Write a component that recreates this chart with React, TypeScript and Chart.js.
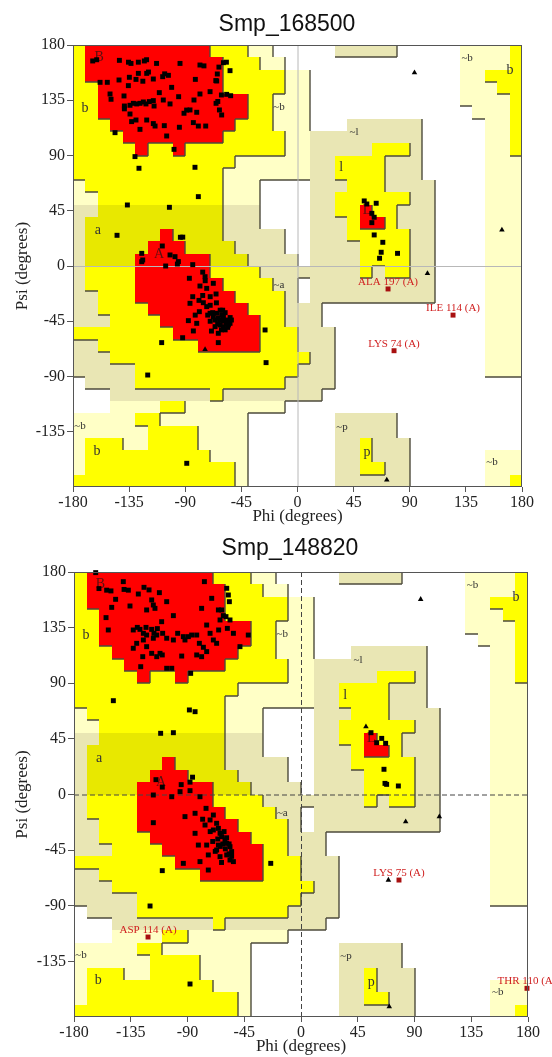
import React, { useEffect, useRef } from 'react';
import { Chart, registerables } from 'chart.js';
Chart.register(...registerables);

// ---------- axis ticks ----------
const PHI_TICKS = [-180, -135, -90, -45, 0, 45, 90, 135, 180];
const PSI_TICK_LABELS = [-135, -90, -45, 0, 45, 90, 135, 180];

// ---------- Ramachandran region map (10 deg cells) ----------
// rows: psi 180 -> -180 ; columns: phi -180 -> 180
// R core, Y/O allowed, p/g generously allowed, . disallowed
const regionRows: string[] = [
  'YRRRRRRRRRRYYYpp.....ggggg.....ppppY',
  'YRRRRRRRRRRRYYYpp..............ppppY',
  'YRRRRRRRRRRRYYYYYpp............ppYYY',
  'YYRRRRRRRRRRYYYYYpp............pppYY',
  'YYRRRRRRRRRRRRYYppp............ppppY',
  'YYRRRRRRRRRRRRYYppp.............pppY',
  'YYYRRRRRRRRRRYYYppp...gggggg.....ppY',
  'YYYYRRRRRRRRYYYYYppggggggggg.....ppY',
  'YYYYYRYYRYYYYYYYYppgggggYYYg.....ppY',
  'YYYYYYYYYYYYYppppppggYYYYggg.....ppp',
  'YYYYYYYYYYYYpppppppggYYYYggg.....ppp',
  'pYYYYYYYYYYYppp....gggYYYgggg....ppp',
  'ppYYYYYYYYYYppp....ggYYYYYYgg....ppp',
  'ggOOOOOOOOOOggg....ggYYRYYggg....ppp',
  'gOOOOOOOOOOOggg....gggYRRYggg....ppp',
  'gOOOOOOROOOOggggg..gggYYYYYgg....ppp',
  'gOOOOORRROOOOgggg..ggggYYYYgg....ppp',
  'gOOOORRRRRROOOgggg.ggggYYYYgg....ppp',
  'gYYYYRRRRRRYYYYggggggggYgYYgg....ppp',
  'gYYYYRRRRRRRYYYYgg.gggggggggg....ppp',
  'ggYYYRRRRRRRRYYYYg.gggggggggg....ppp',
  'ggYYYYRRRRRRRRYYYggg.............ppp',
  'gggYYYYRRRRRRRRYYggg.............ppp',
  'YYYYYYYYRRRRRRRYYYggg............ppp',
  'ggYYYYYYYYRRRRRYYYggg............ppp',
  'gggYYYYYYYYYYYYYYYYgg............ppp',
  'gggggYYYYYYYYYYYYYggg............ppp',
  '.ggggYYYYYYYYYYYYgggg...............',
  '...ggggggggYgggggggg................',
  '...ppppYYpppppppp...................',
  'pppppYYppppppp.......ggggg..........',
  'ppppppYYYYpppp.......ggggg..........',
  'pYYYppYYYYpppp.......ggYggg.........',
  'pYYYYYYYYYYppp.......ggYggg......ppp',
  'pYYYYYYYYYYYYp.......ggYYgg......ppp',
  'YYYYYYYYYYYYYp.......gggggg......ppY',
];
const regionColor: Record<string, string | null> = {
  R: '#ff0000', Y: '#ffff00', O: '#e8e800', p: '#ffffc6', g: '#e9e6b4', '.': null,
};
const regionLevel: Record<string, number> = { R: 3, Y: 2, O: 2, p: 1, g: 1, '.': 0 };

// region letters
const regionLabelText = ['B', 'b', '~b', 'a', 'A', '~a', '~b', 'b', '~l', 'l', 'L', '~b', 'b', '~p', 'p', '~b'];
const regionLabelPhi = [-159, -170.4, -14.8, -160, -111, -14.8, -174.4, -160.7, 45.3, 35, 55.8, 136, 170.4, 35.7, 55.8, 156];
const regionLabelPsi = [170, 128.7, 129.5, 29, 9.8, -15.4, -130.3, -150.6, 109, 80, 45.6, 169, 159.6, -131, -152, -159.6];

// ---------- panel 1: Smp_168500 ----------
const top_title = 'Smp_168500';
const top_residues: [number, number][] = [
  [-164.2, 167], [-161, 168], [-142.8, 167.5], [-135.5, 166], [-133.5, 165], [-127.6, 166], [-122.8, 167], [-121, 168],
  [-113, 165], [-94.2, 165], [-78.2, 163.7], [-75, 163], [-59.4, 165.6], [-57, 166], [-54.1, 159.1], [-63, 162],
  [-64.3, 156.4], [-65.5, 151], [-158.3, 149.6], [-152.5, 149.6], [-143.1, 151.5], [-134.8, 153.7], [-135.6, 146.9],
  [-129.5, 152], [-127.6, 156.9], [-124, 150.5], [-120.9, 156.9], [-119.5, 158], [-115.6, 152.3], [-108.1, 154.2],
  [-106.5, 156.5], [-103.5, 155.3], [-81.9, 152], [-64.8, 150.7], [-150.3, 140.1], [-149.5, 135.8], [-139.1, 138.5],
  [-138.8, 130.3], [-134.3, 130.9], [-131.6, 132.5], [-128.9, 132], [-126.3, 132.5], [-123.6, 133.6], [-121.5, 132],
  [-118.8, 133.9], [-115.6, 134.7], [-115, 130.3], [-110.8, 141.2], [-107.6, 135.2], [-102.2, 132], [-100.9, 145.5],
  [-95.3, 137.9], [-91, 124.4], [-88.9, 127], [-86.2, 127.1], [-83, 135.2], [-80.8, 125.2], [-78.2, 140.1], [-70.1, 142],
  [-65.3, 132.5], [-63.9, 134], [-61, 139.3], [-56.8, 139.8], [-53.6, 138.7], [-62.6, 127.1], [-60.8, 123],
  [-138.8, 128], [-134.3, 123.8], [-133, 117.6], [-126.3, 111.3], [-129.5, 118.9], [-120.9, 118.9], [-115.6, 116],
  [-114.2, 114], [-106.8, 114.3], [-104.9, 105.9], [-94.7, 113], [-83.5, 116.8], [-79.5, 114], [-73.6, 114],
  [-146.3, 108.6], [-130.3, 89.1], [-99, 95], [-127.1, 79.6], [-82.2, 80.4], [-79.5, 56.5], [-136.4, 49.7],
  [-102.7, 47.8], [-144.7, 25], [-93.9, 23.4], [-92, 23.5],
  [-124.9, 10.3], [-124.1, 4.9], [-108.4, 16.3], [-102.2, 9], [-98.2, 7.6], [-95.5, 3.6], [-124.9, 3.5], [-105.7, 0],
  [-96.3, 1.6], [-84, 1.1], [-86.7, -10], [-74.1, -8.7], [-78.2, -16.3], [-72.8, -18.2], [-67.5, -14.1], [-65.3, -22.8],
  [-84, -25], [-75.5, -29.9], [-86.2, -30.4], [-78.7, -37.2], [-72.8, -33.1], [-70.1, -38.5], [-67.5, -41.3],
  [-64.8, -38.5], [-63.5, -42.6], [-62.1, -44], [-60.8, -39.9], [-59.4, -41.3], [-56.8, -44], [-55.4, -48],
  [-54.1, -46.7], [-62.1, -48], [-59.4, -49.4], [-66.1, -49.4], [-63.5, -54.8], [-87.5, -44.5], [-83.5, -52.9],
  [-80.8, -46.7], [-63.5, -62.4], [-92.1, -58.4], [-108.9, -62.4], [-26, -52.1], [-25.2, -78.7], [-120.1, -88.8],
  [-88.8, -160.7], [-58, -38], [-60, -45], [-57, -47], [-62, -36], [-66, -44], [-54, -42], [-68, -38], [-64, -47],
  [-56, -50], [-61, -52], [-70, -45], [-72, -40], [-76, -24], [-79, -28], [-70, -25], [-74, -12], [-82, -40],
  [-69, -53], [-65, -30], [-76, -5], [-70, -32], [-58, -52], [-53, -44], [-60, -36],
  [53.5, 53], [55.6, 50.5], [63.1, 51.1], [59.6, 42.9], [61.5, 39.7], [59.6, 35.3], [61.5, 25.3], [68.4, 19.3],
  [67.1, 11.2], [80.2, 10.3], [65.8, 6.3],
];
const top_glycines: [number, number][] = [[93.8, 157.5], [163.9, 29.4], [104.2, -6], [71.6, -174.3], [-74.1, -67.9]];
const top_outlier_names = ['ALA 197 (A)', 'ILE 114 (A)', 'LYS 74 (A)'];
const top_outlier_phi = [72.6, 124.7, 77.4];
const top_outlier_psi = [-18.7, -40, -69];

// ---------- panel 2: Smp_148820 ----------
const bottom_title = 'Smp_148820';
const bottom_residues: [number, number][] = [
  [-162.8, 179.5], [-160.2, 166.6], [-154.1, 165.3], [-150.7, 164.7], [-147, 157.9], [-140.9, 172.2], [-140.3, 165.9],
  [-136.9, 165.3], [-135.6, 152.5], [-129, 162.2], [-124.5, 167.6], [-120.5, 165.5], [-118.4, 157.4], [-117.1, 153.3],
  [-115.8, 150.6], [-122.4, 149.3], [-112.3, 163.3], [-106.5, 156], [-101.2, 144.7], [-110.5, 139.8], [-114.4, 129],
  [-116.6, 130.4], [-154.6, 143.1], [-152.8, 133.1], [-150.1, 151.4], [-133, 133.1], [-129.8, 135.2], [-127.7, 133.6],
  [-125, 130.4], [-122.9, 135.2], [-122.4, 129], [-118.4, 133.6], [-117.1, 126.4], [-113.9, 134.2], [-109.7, 130.4],
  [-106.5, 126.4], [-101.2, 125], [-97.8, 130.4], [-93.3, 127.7], [-92, 125], [-89.3, 127.7], [-86.7, 129],
  [-82.7, 129], [-80.6, 122.3], [-77.4, 119.1], [-74.8, 137.1], [-74.8, 115.6], [-72.1, 130.4], [-69.5, 125],
  [-66.9, 122.3], [-65.3, 133.1], [-64.2, 141.2], [-61.6, 144.7], [-62.9, 149.3], [-59.5, 143.9], [-56.3, 141.2],
  [-58.4, 134.4], [-53.6, 130.4], [-48.4, 119.6], [-41.8, 129], [-76.6, 172.2], [-78.8, 150.6], [-70.8, 158.7],
  [-58.9, 166.8], [-57.6, 161.4], [-56.8, 156], [-65.5, 149.3], [-133, 118.3], [-130.3, 122.3], [-125.5, 111.5],
  [-127.1, 103.4], [-122.4, 119.6], [-118.4, 114.2], [-114.4, 111.5], [-111.8, 114.2], [-110, 112.9], [-106.5, 102.1],
  [-102.5, 102.1], [-94.6, 112], [-87.5, 98], [-82.7, 112.9], [-78.8, 111.5], [-125, 125], [-148.8, 75.9],
  [-88.5, 68.4], [-84, 67], [-111.3, 49.5], [-101.2, 50],
  [-117.1, -0.4], [-102.5, -1.8], [-95.9, 2.3], [-88, 3.1], [-80.1, -1.8], [-92, -17.9], [-84, -15.2], [-75.3, -11.2],
  [-69.5, -16.6], [-72.1, -20.6], [-66.9, -23.3], [-65.5, -27.4], [-76.1, -24.7], [-69.5, -28.7], [-64.2, -31.4],
  [-62.9, -34.1], [-60.3, -36.8], [-58.9, -39.5], [-56.3, -42.2], [-55, -46.2], [-56.3, -53], [-53.6, -54.3],
  [-66.9, -44.9], [-64.2, -50.3], [-74.8, -40.9], [-84, -31.4], [-81.4, -40.9], [-80.1, -54.3], [-73.5, -48.9],
  [-58.9, -48.9], [-65.5, -40.9], [-117.1, -22.8], [-93.3, -55.7], [-110, -61.6], [-73.5, -61.1], [-24, -55.7],
  [-119.7, -90.2], [-88, -153.3], [-60, -44], [-62, -40], [-57, -48], [-64, -42], [-66, -36], [-59, -35], [-68, -46],
  [-55, -50], [-63, -55], [-70, -38], [-72, -30], [-78, -20], [-61, -30], [-57, -40], [-110, 6], [-115, 12],
  [-95, 8], [-88, 10], [-86, 14],
  [55.5, 50], [60, 41.9], [64, 45.4], [67.1, 41.4], [65.8, 20.4], [66.6, 9], [67.9, 8.2], [77.2, 6.9],
];
const bottom_glycines: [number, number][] = [[51.5, 54.9], [94.9, 157.9], [83, -22], [109.7, -17.9], [69.3, -69.2], [70, -171.7]];
const bottom_outlier_names = ['LYS 75 (A)', 'ASP 114 (A)', 'THR 110 (A)'];
const bottom_outlier_phi = [77.7, -121.3, 179.2];
const bottom_outlier_psi = [-69.2, -115.3, -156.8];

const SERIF = '"Liberation Serif", "Times New Roman", serif';
const SANS = '"Liberation Sans", Arial, sans-serif';

type PanelCfg = {
  title: string;
  titleX: number;
  titleY: number;
  height: number;
  areaLeft: number;
  padRight: number;
  padTop: number;
  xHeight: number;
  xTitlePad: number;
  dashedZero: boolean;
  residues: [number, number][];
  glycines: [number, number][];
  outNames: string[];
  outPhi: number[];
  outPsi: number[];
};

function makePlugin(cfg: PanelCfg) {
  return {
    id: 'rama_' + cfg.title,
    beforeDatasetsDraw(chart: any) {
      const { ctx, chartArea: a, scales } = chart;
      const xs = scales.x;
      const ys = scales.y;
      ctx.save();
      ctx.fillStyle = '#ffffff';
      ctx.fillRect(a.left, a.top, a.right - a.left, a.bottom - a.top);
      const px = (v: number) => Math.round(xs.getPixelForValue(v));
      const py = (v: number) => Math.round(ys.getPixelForValue(v));
      const n = regionRows.length;
      const cell = (i: number, j: number) => (regionRows[i] || '')[j] || '.';
      // fills
      for (let i = 0; i < n; i++) {
        for (let j = 0; j < 36; j++) {
          const c = regionColor[cell(i, j)];
          if (!c) continue;
          const x0 = px(-180 + 10 * j), x1 = px(-170 + 10 * j);
          const y0 = py(180 - 10 * i), y1 = py(170 - 10 * i);
          ctx.fillStyle = c;
          ctx.fillRect(x0, y0, x1 - x0, y1 - y0);
        }
      }
      // boundary lines (right / bottom edges of higher regions)
      ctx.strokeStyle = '#4d4b3c';
      ctx.lineWidth = 1.4;
      ctx.beginPath();
      for (let i = 0; i < n; i++) {
        for (let j = 0; j < 36; j++) {
          const L = regionLevel[cell(i, j)];
          const x0 = px(-180 + 10 * j), x1 = px(-170 + 10 * j);
          const y0 = py(180 - 10 * i), y1 = py(170 - 10 * i);
          if (j < 35 && L > regionLevel[cell(i, j + 1)]) {
            ctx.moveTo(x1, y0);
            ctx.lineTo(x1, y1);
          }
          if (i < n - 1 && L > regionLevel[cell(i + 1, j)]) {
            ctx.moveTo(x0, y1);
            ctx.lineTo(x1, y1);
          }
        }
      }
      ctx.stroke();
      // zero lines
      ctx.beginPath();
      if (cfg.dashedZero) {
        ctx.setLineDash([5, 3]);
        ctx.strokeStyle = '#444';
        ctx.lineWidth = 1;
      } else {
        ctx.strokeStyle = '#b8b8b8';
        ctx.lineWidth = 1;
      }
      const x0 = xs.getPixelForValue(0) + 0.5;
      const y0 = ys.getPixelForValue(0) + 0.5;
      ctx.moveTo(x0, a.top);
      ctx.lineTo(x0, a.bottom);
      ctx.moveTo(a.left, y0);
      ctx.lineTo(a.right, y0);
      ctx.stroke();
      ctx.setLineDash([]);
      // region letters
      ctx.textAlign = 'center';
      ctx.textBaseline = 'middle';
      for (let k = 0; k < regionLabelText.length; k++) {
        const t = regionLabelText[k];
        const small = t.startsWith('~');
        ctx.font = (small ? '11px ' : '14px ') + SERIF;
        ctx.fillStyle = t === 'B' || t === 'A' || t === 'L' ? '#5a1010' : '#333';
        ctx.fillText(t, xs.getPixelForValue(regionLabelPhi[k]), ys.getPixelForValue(regionLabelPsi[k]));
      }
      ctx.restore();
    },
    afterDatasetsDraw(chart: any) {
      const { ctx, scales } = chart;
      ctx.save();
      ctx.font = '11px ' + SERIF;
      ctx.fillStyle = '#d02020';
      ctx.textAlign = 'center';
      ctx.textBaseline = 'alphabetic';
      for (let k = 0; k < cfg.outNames.length; k++) {
        const x = scales.x.getPixelForValue(cfg.outPhi[k]);
        const y = scales.y.getPixelForValue(cfg.outPsi[k]);
        ctx.fillText(cfg.outNames[k], x, y - 4);
      }
      ctx.restore();
    },
    afterDraw(chart: any) {
      const { ctx, chartArea: a } = chart;
      ctx.save();
      ctx.strokeStyle = '#555';
      ctx.lineWidth = 1;
      ctx.strokeRect(a.left + 0.5, a.top + 0.5, a.right - a.left - 1, a.bottom - a.top - 1);
      ctx.font = '23px ' + SANS;
      ctx.fillStyle = '#111';
      ctx.textAlign = 'center';
      ctx.textBaseline = 'alphabetic';
      ctx.fillText(cfg.title, cfg.titleX, cfg.titleY);
      ctx.restore();
    },
  };
}

function Panel({ cfg }: { cfg: PanelCfg }) {
  const ref = useRef<HTMLCanvasElement | null>(null);
  useEffect(() => {
    if (!ref.current) return;
    const chart = new Chart(ref.current, {
      type: 'scatter',
      data: {
        datasets: [
          {
            data: cfg.residues.map(([x, y]) => ({ x, y })),
            pointStyle: 'rect',
            radius: 3.5,
            backgroundColor: '#000',
            borderWidth: 0,
            clip: false,
          } as any,
          {
            data: cfg.glycines.map(([x, y]) => ({ x, y })),
            pointStyle: 'triangle',
            radius: 3.2,
            backgroundColor: '#000',
            borderWidth: 0,
            clip: false,
          } as any,
          {
            data: cfg.outPhi.map((x, k) => ({ x, y: cfg.outPsi[k] })),
            pointStyle: 'rect',
            radius: 3.5,
            backgroundColor: '#a81010',
            borderWidth: 0,
            clip: false,
          } as any,
        ],
      },
      options: {
        responsive: false,
        animation: false,
        devicePixelRatio: 1,
        layout: { padding: { top: cfg.padTop, right: cfg.padRight, left: 0, bottom: 0 } },
        plugins: { legend: { display: false }, tooltip: { enabled: false }, title: { display: false } },
        scales: {
          x: {
            type: 'linear',
            min: -180,
            max: 180,
            afterBuildTicks: (s: any) => {
              s.ticks = PHI_TICKS.map((v) => ({ value: v }));
            },
            afterFit: (s: any) => {
              s.height = cfg.xHeight;
            },
            grid: { display: true, drawOnChartArea: false, drawTicks: true, tickLength: 5, color: '#555' },
            border: { display: false },
            ticks: { font: { family: SERIF, size: 16 }, color: '#222', padding: 1, maxRotation: 0, autoSkip: false },
            title: {
              display: true,
              text: 'Phi (degrees)',
              font: { family: SERIF, size: 17 },
              color: '#222',
              padding: { top: 0, bottom: cfg.xTitlePad },
            },
          },
          y: {
            type: 'linear',
            min: -180,
            max: 180,
            afterBuildTicks: (s: any) => {
              s.ticks = PSI_TICK_LABELS.map((v) => ({ value: v }));
            },
            afterFit: (s: any) => {
              s.width = cfg.areaLeft;
            },
            grid: { display: true, drawOnChartArea: false, drawTicks: true, tickLength: 6, color: '#555' },
            border: { display: false },
            ticks: { font: { family: SERIF, size: 16 }, color: '#222', padding: 2, autoSkip: false },
            title: {
              display: true,
              text: 'Psi (degrees)',
              font: { family: SERIF, size: 17 },
              color: '#222',
              padding: { top: 12, bottom: 0 },
            },
          },
        },
      } as any,
      plugins: [makePlugin(cfg)],
    });
    return () => chart.destroy();
  }, [cfg]);
  return <canvas ref={ref} width={552} height={cfg.height} style={{ display: 'block', width: 552, height: cfg.height }} />;
}

const topCfg: PanelCfg = {
  title: top_title,
  titleX: 287,
  titleY: 31,
  height: 530,
  areaLeft: 73,
  padRight: 30,
  padTop: 45,
  xHeight: 43,
  xTitlePad: 3,
  dashedZero: false,
  residues: top_residues,
  glycines: top_glycines,
  outNames: top_outlier_names,
  outPhi: top_outlier_phi,
  outPsi: top_outlier_psi,
};

const bottomCfg: PanelCfg = {
  title: bottom_title,
  titleX: 290,
  titleY: 25,
  height: 527,
  areaLeft: 74,
  padRight: 24,
  padTop: 42,
  xHeight: 40,
  xTitlePad: 0,
  dashedZero: true,
  residues: bottom_residues,
  glycines: bottom_glycines,
  outNames: bottom_outlier_names,
  outPhi: bottom_outlier_phi,
  outPsi: bottom_outlier_psi,
};

export default function App() {
  useEffect(() => {
    document.body.style.margin = '0';
    document.body.style.background = '#ffffff';
  }, []);
  return (
    <div style={{ width: 552, height: 1057, overflow: 'hidden', background: '#fff' }}>
      <Panel cfg={topCfg} />
      <Panel cfg={bottomCfg} />
    </div>
  );
}
